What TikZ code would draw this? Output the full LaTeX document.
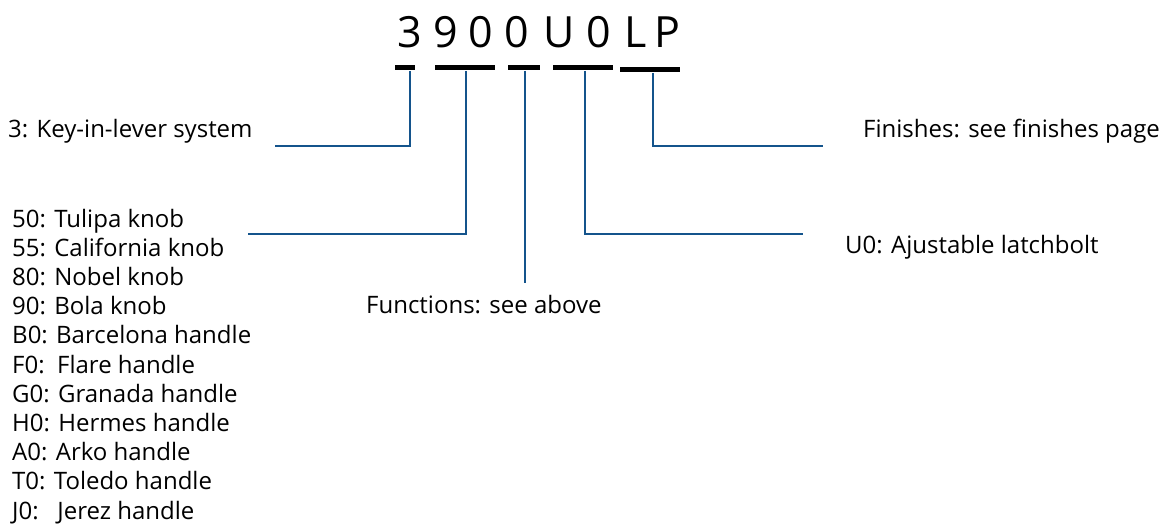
\documentclass[tikz,border=0pt]{standalone}
\usepackage{fontspec}
\setmainfont{Open Sans}
\usetikzlibrary{positioning, calc}
\definecolor{leadblue}{RGB}{20,84,140}
\tikzset{
    codebar/.style={line width=5pt, black},
    lead/.style={line width=2.2pt, leadblue},
    codetext/.style={inner sep=0pt, anchor=base west, font=\fontsize{24}{29}\selectfont},
    codechar/.style={inner sep=0pt, anchor=base, font=\fontsize{43}{43}\selectfont}
}
\begin{document}
\begin{tikzpicture}[x=1pt, y=-1pt]
    \useasboundingbox (0,0) rectangle (1163,524);
    \def \bary {68}
    \def \top {71}
    % the order code
    \foreach \ch/\xx [count=\i] in {3/410, 9/446, 0/481, 0/517, U/559, 0/599, L/636, P/667}
        \node[codechar] (c\i) at (\xx,48) {\ch};
    \draw[codebar] (395,\bary) -- (415,\bary);
    \draw[codebar] (435,\bary) -- (495,\bary);
    \draw[codebar] (508,\bary) -- (540,\bary);
    \draw[codebar] (553,\bary) -- (613,\bary);
    \draw[codebar] (620,\bary+2) -- (680,\bary+2);
    \coordinate (g1) at (410,\top);
    \coordinate (g2) at (466,\top);
    \coordinate (g3) at (525,\top);
    \coordinate (g4) at (585,\top);
    \coordinate (g5) at (653,\top+2);
    % ends of the leads
    \coordinate (k1) at (275,146);
    \coordinate (l1) at (248,234);
    \coordinate (f1) at (525,283);
    \coordinate (u1) at (803,234);
    \coordinate (e1) at (823,146);
    \draw[lead] (g1) |- (k1);
    \draw[lead] (g2) |- (l1);
    \draw[lead] (g3) -- (f1);
    \draw[lead] (g4) |- (u1);
    \draw[lead] (g5) |- (e1);
    % texts
    \node[codetext] (key) at (8,138) {3: Key-in-lever system};
    \node[codetext] (fin) at (863,138) {Finishes: see finishes page};
    \node[codetext] (latch) at (845,253) {U0: Ajustable latchbolt};
    \node[codetext] (func) at (366,313) {Functions: see above};
    \foreach \t [count=\i] in {{50: Tulipa knob}, {55: California knob}, {80: Nobel knob},
        {90: Bola knob}, {B0: Barcelona handle}, {F0:\ \ Flare handle}, {G0: Granada handle},
        {H0: Hermes handle}, {A0: Arko handle}, {T0: Toledo handle}, {J0:\ \ \ Jerez handle}}
        \node[codetext] (h\i) at (12,{227+29.2*(\i-1)}) {\t};
\end{tikzpicture}
\end{document}
